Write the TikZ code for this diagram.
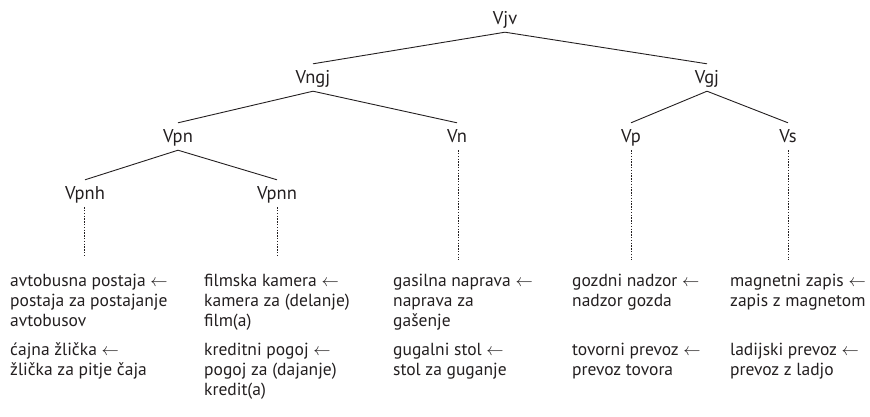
\documentclass[tikz,border=0pt]{standalone}
\usepackage{fontspec}
\setmainfont{PT Sans}
\definecolor{ink}{HTML}{231F20}
\begin{document}
\begin{tikzpicture}[x=1pt,y=-1pt,
  lab/.style={anchor=base,inner sep=0pt,text height=19pt,text depth=8pt,font=\fontsize{18.5}{20}\selectfont,text=ink},
  txt/.style={anchor=base west,inner sep=0pt,align=left,font=\fontsize{17.5}{20.3}\selectfont,text=ink},
  edge/.style={draw=ink,line width=0.9pt},
  dots/.style={draw=ink,line width=0.9pt,dash pattern=on 1.4pt off 1.4pt}]
\useasboundingbox (0,0) rectangle (870,416);
% tree nodes
\node[lab] (vjv) at (505,24) {Vjv};
\node[lab] (vngj) at (313,83) {Vngj};
\node[lab] (vgj) at (707,83) {Vgj};
\node[lab] (vpn) at (178,142) {Vpn};
\node[lab] (vn) at (457,142) {Vn};
\node[lab] (vp) at (631,142) {Vp};
\node[lab] (vs) at (788,142) {Vs};
\node[lab] (vpnh) at (85,199) {Vpnh};
\node[lab] (vpnn) at (277,199) {Vpnn};
% edges
\draw[edge] (vjv.south) -- (vngj.north);
\draw[edge] (vjv.south) -- (vgj.north);
\draw[edge] (vngj.south) -- (vpn.north);
\draw[edge] (vngj.south) -- (vn.north);
\draw[edge] (vgj.south) -- (vp.north);
\draw[edge] (vgj.south) -- (vs.north);
\draw[edge] (vpn.south) -- (vpnh.north);
\draw[edge] (vpn.south) -- (vpnn.north);
% dotted leads
\coordinate (evpnh) at (84,257);
\coordinate (evpnn) at (277,257);
\coordinate (evn) at (458,260);
\coordinate (evp) at (631,260);
\coordinate (evs) at (788,260);
\draw[dots] (vpnh.south -| evpnh) -- (evpnh);
\draw[dots] (vpnn.south -| evpnn) -- (evpnn);
\draw[dots] (vn.south -| evn) -- (evn);
\draw[dots] (vp.south -| evp) -- (evp);
\draw[dots] (vs.south -| evs) -- (evs);
% examples (base anchor = baseline of the last line)
\node[txt] (a1) at (10,326.6) {avtobusna postaja $\leftarrow$\\postaja za postajanje\\avtobusov};
\node[txt] (a2) at (10,375.3) {ćajna žlička $\leftarrow$\\žlička za pitje čaja};
\node[txt] (b1) at (204,326.6) {filmska kamera $\leftarrow$\\kamera za (delanje)\\film(a)};
\node[txt] (b2) at (204,395.6) {kreditni pogoj $\leftarrow$\\pogoj za (dajanje)\\kredit(a)};
\node[txt] (c1) at (393,326.6) {gasilna naprava $\leftarrow$\\naprava za\\gašenje};
\node[txt] (c2) at (393,375.3) {gugalni stol $\leftarrow$\\stol za guganje};
\node[txt] (d1) at (572,306.3) {gozdni nadzor $\leftarrow$\\nadzor gozda};
\node[txt] (d2) at (572,375.3) {tovorni prevoz $\leftarrow$\\prevoz tovora};
\node[txt] (e1) at (730,306.3) {magnetni zapis $\leftarrow$\\zapis z magnetom};
\node[txt] (e2) at (730,375.3) {ladijski prevoz $\leftarrow$\\prevoz z ladjo};
\end{tikzpicture}
\end{document}
